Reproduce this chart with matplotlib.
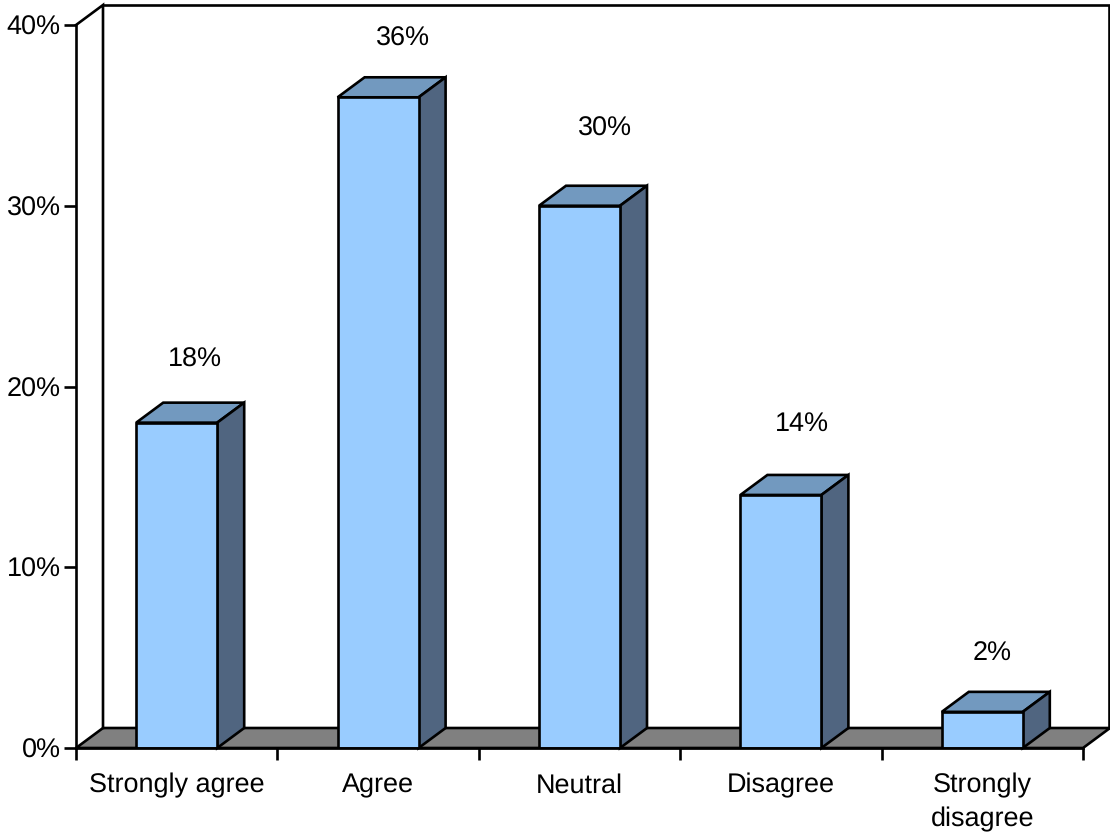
import matplotlib
matplotlib.use("Agg")
import matplotlib.pyplot as plt
from matplotlib.patches import Polygon
from matplotlib.ticker import FixedLocator, NullFormatter

categories = ["Strongly agree", "Agree", "Neutral", "Disagree", "Strongly\ndisagree"]
values = [18, 36, 30, 14, 2]
yticks = [0, 10, 20, 30, 40]
ytick_labels = ["0%", "10%", "20%", "30%", "40%"]

# value labels float at uneven spots in the original
label_dx = [0.09, 0.125, 0.125, 0.105, 0.05]
label_lift = [3.5, 3.23, 4.27, 3.94, 3.22]

LW = 1.9
FS = 19.7
FS_CAT = 19.3
bar_w = 81 / 201.4
depth_x = 27 / 201.4
depth_y = 20 / 723 * 40

plt.rcParams["font.family"] = ["Liberation Sans", "DejaVu Sans"]
plt.rcParams["text.hinting"] = "no_hinting"
plt.rcParams["text.hinting_factor"] = 1

fig = plt.figure(figsize=(11.1, 8.33), dpi=100)
ax = fig.add_axes([76 / 1110, 85 / 833, 1007 / 1110, 723 / 833])
ax.set_xlim(0, 5)
ax.set_ylim(0, 40)
ax.patch.set_visible(False)

for s in ["top", "right"]:
    ax.spines[s].set_visible(False)
for s in ["left", "bottom"]:
    ax.spines[s].set_linewidth(LW)
    ax.spines[s].set_zorder(6)

# floor and back wall
ax.add_patch(Polygon([(0, 0), (5, 0), (5 + depth_x, depth_y), (depth_x, depth_y)],
                     closed=True, fc="#808080", ec="black", lw=LW, clip_on=False, zorder=1))
ax.plot([0, depth_x, depth_x], [40, 40 + depth_y, depth_y], color="black", lw=LW,
        clip_on=False, zorder=2, solid_joinstyle="miter")
ax.plot([depth_x, 5 + depth_x - 0.004, 5 + depth_x - 0.004], [40 + depth_y, 40 + depth_y, depth_y],
        color="black", lw=LW, clip_on=False, zorder=2, solid_joinstyle="miter")

for i, v in enumerate(values):
    left = i + 0.5 - bar_w / 2
    right = left + bar_w
    ax.bar(left, v, width=bar_w, align="edge", color="#99CCFF", edgecolor="black",
           linewidth=LW, zorder=4)
    ax.add_patch(Polygon([(left, v), (right, v), (right + depth_x, v + depth_y), (left + depth_x, v + depth_y)],
                         closed=True, fc="#7299BF", ec="black", lw=LW, zorder=3, clip_on=False))
    ax.add_patch(Polygon([(right, 0), (right + depth_x, depth_y), (right + depth_x, v + depth_y), (right, v)],
                         closed=True, fc="#506580", ec="black", lw=LW, zorder=3, clip_on=False))
    ax.text(i + 0.5 + label_dx[i], v + label_lift[i], f"{v}%", ha="center", va="center",
            fontsize=FS, color="black", zorder=7)

ax.set_yticks(yticks)
ax.set_yticklabels(ytick_labels, fontsize=FS, color="black")
ax.xaxis.set_major_locator(FixedLocator(range(6)))
ax.xaxis.set_major_formatter(NullFormatter())
ax.tick_params(axis="y", length=8.6, width=LW, pad=2.5)
ax.tick_params(axis="x", length=8.6, width=LW)

for i, name in enumerate(categories):
    ax.annotate(name, xy=(i + 0.5, 0), xycoords="data", xytext=(0, -18.2),
                textcoords="offset points", ha="center", va="top", fontsize=FS_CAT,
                linespacing=1.45, annotation_clip=False)

fig.savefig("out.png", dpi=100)
